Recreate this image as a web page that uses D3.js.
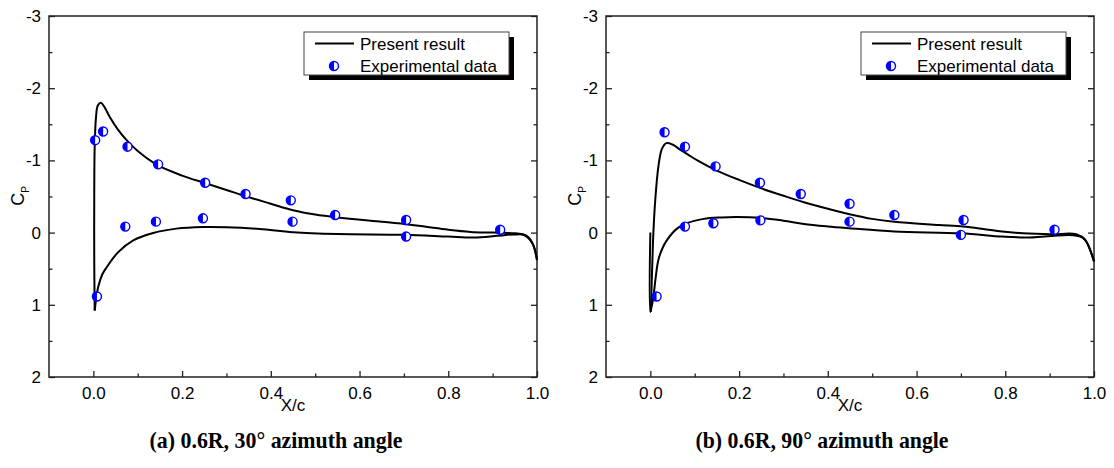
<!DOCTYPE html>
<html>
<head>
<meta charset="utf-8">
<script src="https://cdn.jsdelivr.net/npm/d3@7"></script>
<style>
  body { margin: 0; background: #fff; }
</style>
</head>
<body>
<svg id="chart" width="1114" height="468"></svg>
<script>
"use strict"

// tick values and labels
const xTicks = [0, 0.2, 0.4, 0.6, 0.8, 1.0];
const xMinor = [0.1, 0.3, 0.5, 0.7, 0.9];
const yTicks = [-3, -2, -1, 0, 1, 2];
const yMinor = [-2.5, -1.5, -0.5, 0.5, 1.5];
const captions = ["(a) 0.6R, 30\u00b0 azimuth angle", "(b) 0.6R, 90\u00b0 azimuth angle"];
const legendLabels = ["Present result", "Experimental data"];

// (a) 30 deg : computed Cp, [x/c, Cp]
const upperA = [[0.003,1.08],[0.002,0.4],[0.002,-0.5],[0.003,-1.2],[0.006,-1.6],[0.010,-1.76],
  [0.017,-1.80],[0.025,-1.74],[0.037,-1.60],[0.055,-1.43],[0.075,-1.28],[0.10,-1.13],[0.146,-0.93],
  [0.20,-0.79],[0.251,-0.687],[0.30,-0.59],[0.345,-0.50],[0.40,-0.40],[0.45,-0.31],[0.50,-0.25],
  [0.55,-0.21],[0.65,-0.15],[0.70,-0.12],[0.75,-0.08],[0.80,-0.04],[0.85,-0.01],[0.90,0.0],
  [0.95,0.01],[0.97,0.03],[0.99,0.15],[1.0,0.38]];
const lowerA = [[0.003,1.08],[0.006,0.93],[0.011,0.75],[0.02,0.58],[0.03,0.48],[0.056,0.27],
  [0.09,0.107],[0.135,0.005],[0.187,-0.055],[0.247,-0.078],[0.30,-0.075],[0.375,-0.05],[0.45,-0.005],
  [0.55,0.02],[0.70,0.03],[0.80,0.055],[0.857,0.068],[0.91,0.045],[0.95,0.025],[0.975,0.04],
  [0.99,0.15],[1.0,0.38]];
// (a) experimental
const expUpperA = [[0.004,-1.28],[0.022,-1.40],[0.077,-1.19],[0.146,-0.945],[0.252,-0.69],
  [0.343,-0.535],[0.445,-0.447],[0.545,-0.244],[0.705,-0.175],[0.917,-0.04]];
const expLowerA = [[0.008,0.885],[0.072,-0.083],[0.141,-0.152],[0.247,-0.198],[0.449,-0.152],[0.705,0.055]];

// (b) 90 deg : computed Cp
const upperB = [[0.001,1.10],[0.004,0.5],[0.0068,0.0],[0.011,-0.45],[0.018,-0.91],[0.026,-1.16],
  [0.036,-1.24],[0.05,-1.22],[0.067,-1.15],[0.085,-1.08],[0.106,-1.0],[0.146,-0.87],[0.20,-0.73],
  [0.247,-0.62],[0.30,-0.51],[0.346,-0.42],[0.40,-0.33],[0.449,-0.255],[0.50,-0.19],[0.55,-0.15],
  [0.65,-0.106],[0.705,-0.083],[0.75,-0.05],[0.793,-0.014],[0.84,0.01],[0.905,0.023],[0.96,0.023],
  [0.98,0.1],[1.0,0.4]];
const lowerB = [[0.0,0.0],[0.0,1.10],[0.0068,0.89],[0.012,0.62],[0.018,0.38],[0.027,0.22],
  [0.037,0.107],[0.06,-0.055],[0.082,-0.13],[0.12,-0.19],[0.16,-0.21],[0.195,-0.216],[0.247,-0.205],
  [0.30,-0.165],[0.346,-0.12],[0.40,-0.085],[0.449,-0.06],[0.55,-0.014],[0.70,0.01],[0.793,0.055],
  [0.849,0.068],[0.905,0.046],[0.953,0.037],[0.977,0.08],[1.0,0.4]];
// (b) experimental
const expUpperB = [[0.032,-1.39],[0.078,-1.19],[0.147,-0.917],[0.247,-0.69],[0.339,-0.535],
  [0.449,-0.40],[0.55,-0.244],[0.706,-0.175],[0.911,-0.04]];
const expLowerB = [[0.014,0.885],[0.078,-0.083],[0.142,-0.129],[0.248,-0.17],[0.449,-0.152],[0.70,0.032]];

const W = 488, H = 361, TOP = 16;
const SANS = "'Liberation Sans', Arial, sans-serif";
const SERIF = "'Liberation Serif', 'Times New Roman', serif";
const svg = d3.select("#chart");

const panels = [
  {x0: 49, curves: [upperA, lowerA], exp: expUpperA.concat(expLowerA), caption: captions[0], capX: 227},
  {x0: 606, curves: [upperB, lowerB], exp: expUpperB.concat(expLowerB), caption: captions[1], capX: 216}
];
panels.forEach(drawPanel);

function marker(sel, r)
{
  // white circle, left half filled blue
  sel.append("circle").attr("r", r).attr("fill", "#fff")
     .attr("stroke", "#0000ff").attr("stroke-width", 1.4);
  sel.append("path")
     .attr("d", d3.arc()({innerRadius: 0, outerRadius: r, startAngle: Math.PI, endAngle: 2 * Math.PI}))
     .attr("fill", "#0000ff");
}

function drawPanel(p)
{
  let g = svg.append("g").attr("transform", "translate(" + p.x0 + "," + TOP + ")");

  let x = d3.scaleLinear().domain([-0.1, 1.0]).range([0, W]);
  let y = d3.scaleLinear().domain([-3, 2]).range([0, H]);

  // axes, ticks pointing inward
  g.append("g").attr("transform", "translate(0," + H + ")")
   .call(d3.axisBottom(x).tickValues(xTicks).tickSize(-6).tickPadding(10)
   .tickFormat(d3.format(".1f")));
  g.append("g").attr("transform", "translate(0," + H + ")")
   .call(d3.axisBottom(x).tickValues(xMinor).tickSize(-3.5).tickFormat(""));
  g.append("g")
   .call(d3.axisLeft(y).tickValues(yTicks).tickSize(-6).tickPadding(8)
   .tickFormat(d => String(d)));
  g.append("g").call(d3.axisLeft(y).tickValues(yMinor).tickSize(-3.5).tickFormat(""));
  g.append("g").attr("transform", "translate(" + W + ",0)")
   .call(d3.axisRight(y).tickValues(yTicks).tickSize(-6).tickFormat(""));
  g.append("g").attr("transform", "translate(" + W + ",0)")
   .call(d3.axisRight(y).tickValues(yMinor).tickSize(-3.5).tickFormat(""));

  g.selectAll(".domain").remove();
  g.selectAll(".tick line").attr("stroke", "#222").attr("stroke-width", 1.3);
  g.selectAll(".tick text").style("font-size", "17px").style("font-family", SANS).attr("fill", "#000");

  // frame
  g.append("rect").attr("width", W).attr("height", H)
   .attr("fill", "none").attr("stroke", "#222").attr("stroke-width", 1.5);

  // computed curves
  let line = d3.line()
               .x(d => x(d[0]))
               .y(d => y(d[1]))
               .curve(d3.curveCatmullRom.alpha(0.5));
  g.selectAll(".curve").data(p.curves).enter().append("path")
   .attr("class", "curve")
   .attr("d", line)
   .attr("fill", "none").attr("stroke", "#000").attr("stroke-width", 2);

  // experimental points
  g.selectAll(".pt").data(p.exp).enter().append("g")
   .attr("class", "pt")
   .attr("transform", d => "translate(" + x(d[0]) + "," + y(d[1]) + ")")
   .each(function() { marker(d3.select(this), 4.5); });

  // legend
  let lg = g.append("g").attr("transform", "translate(255,16)");
  lg.append("rect").attr("x", 5).attr("y", 5).attr("width", 205).attr("height", 43).attr("fill", "#000");
  lg.append("rect").attr("width", 205).attr("height", 43)
    .attr("fill", "#fff").attr("stroke", "#444").attr("stroke-width", 1);
  lg.append("line").attr("x1", 11).attr("x2", 50).attr("y1", 11.5).attr("y2", 11.5)
    .attr("stroke", "#000").attr("stroke-width", 2);
  marker(lg.append("g").attr("transform", "translate(30,34)"), 4.5);
  lg.selectAll(".lt").data(legendLabels).enter().append("text")
    .attr("class", "lt")
    .attr("x", 56)
    .attr("y", (d, i) => 18 + i * 21.7)
    .style("font-family", SANS).style("font-size", "17px")
    .text(d => d);

  // axis titles
  g.append("text").attr("x", W / 2).attr("y", 395)
   .attr("text-anchor", "middle")
   .style("font-family", SANS).style("font-size", "17px")
   .text("X/c");
  let cp = g.append("text")
            .attr("transform", "translate(-25,180) rotate(-90)")
            .attr("text-anchor", "middle")
            .style("font-family", SANS).style("font-size", "18px");
  cp.append("tspan").text("C");
  cp.append("tspan").style("font-size", "10px").attr("dy", 5).text("P");

  // caption (condensed bold serif)
  g.append("text").attr("x", p.capX).attr("y", 432)
   .attr("text-anchor", "middle")
   .attr("textLength", 253).attr("lengthAdjust", "spacingAndGlyphs")
   .style("font-family", SERIF).style("font-weight", "bold").style("font-size", "24px")
   .text(p.caption);
}
</script>
</body>
</html>
